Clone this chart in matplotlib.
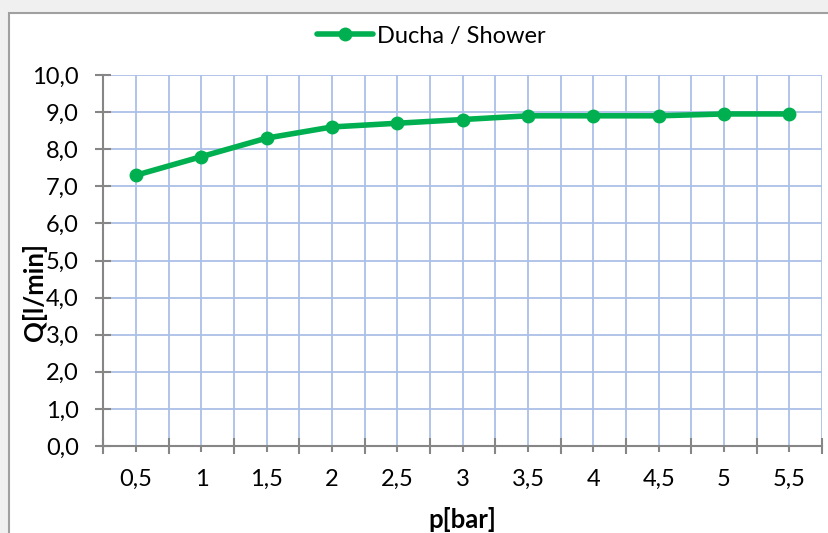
import matplotlib
matplotlib.use("Agg")
import matplotlib.pyplot as plt
from matplotlib.patches import Rectangle
from matplotlib.ticker import FixedLocator, NullFormatter, FixedFormatter

categories = ["0,5", "1", "1,5", "2", "2,5", "3", "3,5", "4", "4,5", "5", "5,5"]
flow = [7.3, 7.8, 8.3, 8.6, 8.7, 8.8, 8.9, 8.9, 8.9, 8.95, 8.95]
y_ticks = [0, 1, 2, 3, 4, 5, 6, 7, 8, 9, 10]
y_labels = ["0,0", "1,0", "2,0", "3,0", "4,0", "5,0", "6,0", "7,0", "8,0", "9,0", "10,0"]
series_name = "Ducha / Shower"

plt.rcParams['font.family'] = ['Lato', 'DejaVu Sans']

W, H = 829, 533
fig = plt.figure(figsize=(W / 100, H / 100), dpi=100)
fig.patch.set_facecolor("#f0f0f0")

# chart area (white with gray border)
fig.patches.append(Rectangle((9.5 / W, -0.1), 1.0, (H - 12.5) / H + 0.1,
                             transform=fig.transFigure, facecolor="white",
                             edgecolor="#a0a0a0", linewidth=1.5, zorder=-5))

left, right, top, bottom = 103.5, 822, 75, 446
ax = fig.add_axes([left / W, (H - bottom) / H, (right - left) / W, (bottom - top) / H])
ax.set_zorder(1)
ax.set_facecolor("white")

n = len(categories)
x = list(range(n))
ax.set_xlim(-0.5, n - 0.5)
ax.set_ylim(0, 10)

grid_c = "#abc0e8"
axis_c = "#868686"

# grid
for b in [i - 0.5 for i in range(n + 1)] + x:
    ax.axvline(b, color=grid_c, linewidth=1.3, zorder=1)
for yv in y_ticks:
    ax.axhline(yv, color=grid_c, linewidth=1.3, zorder=1)

ax.plot(x, flow, color="#00b050", linewidth=4.0, marker="o", markersize=9,
        label=series_name, zorder=5, solid_capstyle="round")

for s in ["top", "right"]:
    ax.spines[s].set_visible(False)
for s in ["left", "bottom"]:
    ax.spines[s].set_color(axis_c)
    ax.spines[s].set_linewidth(1.5)
    ax.spines[s].set_zorder(4)

fs = 17
ax.xaxis.set_major_locator(FixedLocator([i - 0.5 for i in range(n + 1)]))
ax.xaxis.set_major_formatter(NullFormatter())
ax.xaxis.set_minor_locator(FixedLocator(x))
ax.xaxis.set_minor_formatter(FixedFormatter(categories))
ax.tick_params(axis="x", which="major", direction="inout", length=11.5, width=1.5, color=axis_c)
ax.tick_params(axis="x", which="minor", direction="out", length=4.5, width=1.5, color=axis_c,
               labelsize=fs, pad=12, labelcolor="#000000")

ax.set_yticks(y_ticks)
ax.set_yticklabels(y_labels)
ax.tick_params(axis="y", which="major", direction="inout", length=11.5, width=1.5, color=axis_c,
               labelsize=fs, pad=12, labelcolor="#000000")

fig.text(35 / W, 1 - 292 / H, "Q[l/min]", rotation=90, ha="center", va="center",
         fontsize=18.5, fontweight="bold", color="#000000")
fig.text(462 / W, 1 - 520 / H, "p[bar]", ha="center", va="center",
         fontsize=18.5, fontweight="bold", color="#000000")

leg = fig.legend(loc="center", bbox_to_anchor=(431 / W, 1 - 36 / H), frameon=False,
                 fontsize=fs, handlelength=2.4, handletextpad=0.15, borderaxespad=0)
for h in leg.get_lines():
    h.set_markersize(9)

fig.savefig("out.png", dpi=100, facecolor=fig.get_facecolor())
